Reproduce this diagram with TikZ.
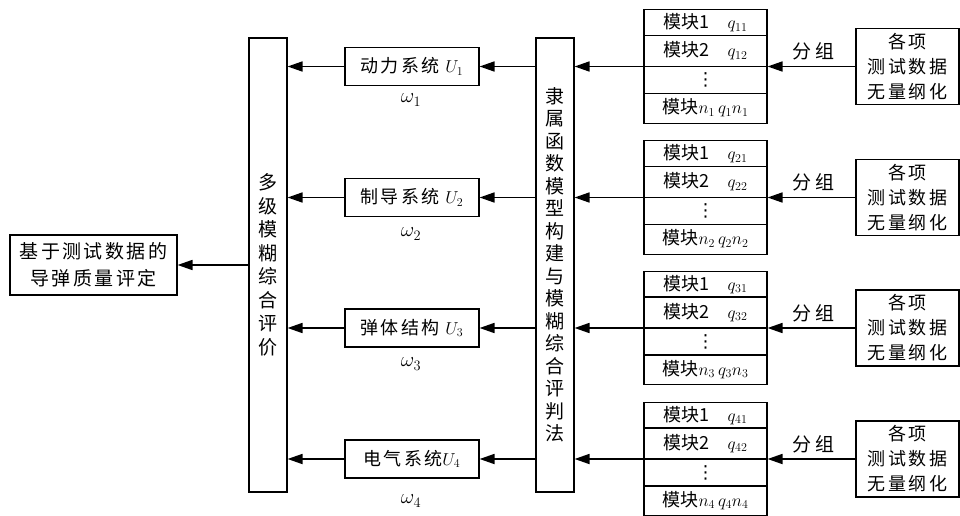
\documentclass[tikz,border=0pt]{standalone}
\usepackage{fontspec}
\setmainfont{Liberation Serif}
\newfontfamily\cjk{Noto Sans CJK SC}
\newfontfamily\cjkA[LetterSpace=13]{Noto Sans CJK SC}
\newfontfamily\cjkB[LetterSpace=12]{Noto Sans CJK SC}
\newfontfamily\cjkC[LetterSpace=16]{Noto Sans CJK SC}
\newfontfamily\symfont{DejaVu Sans}
\usetikzlibrary{arrows.meta,calc}
\begin{document}
\begin{tikzpicture}[x=1pt,y=-1pt,
  box/.style={draw,line width=1.1pt,inner sep=0pt,align=center},
  tall/.style={box,minimum width=38pt,minimum height=454pt},
  sysbox/.style={box,minimum width=134pt,minimum height=38pt,font=\fontsize{18}{20}\selectfont\cjkB},
  tbl/.style={box,anchor=north,minimum width=123pt,minimum height=113.5pt},
  tline/.style={line width=1.1pt},
  rowtxt/.style={inner sep=0pt,font=\fontsize{18}{18}\selectfont\cjk},
  databox/.style={box,minimum width=103pt,minimum height=76pt,font=\fontsize{18}{25}\selectfont\cjkC},
  lbl/.style={inner sep=0pt,font=\fontsize{19}{20}\selectfont\cjkC},
  wlbl/.style={inner sep=0pt,font=\fontsize{21}{22}\selectfont},
  arr/.style={line width=1.7pt,-{Triangle[length=15pt,width=10pt]}}
]
\useasboundingbox (0,0) rectangle (960,516);

\node[box,minimum width=167pt,minimum height=60pt,font=\fontsize{19}{27}\selectfont\cjkA] (eval) at (93.5,265) {基于测试数据的\\导弹质量评定};

\node[tall,font=\fontsize{19}{23.5}\selectfont\cjk] (multi) at (268,265)
  {多\\级\\模\\糊\\综\\合\\评\\价};
\node[tall,font=\fontsize{19}{22.5}\selectfont\cjk] (memb) at (555,265)
  {隶\\属\\函\\数\\模\\型\\构\\建\\与\\模\\糊\\综\\合\\评\\判\\法};

% subsystem boxes
\node[sysbox] (s1) at (412,66.5) {动力系统 $U_1$};
\node[sysbox] (s2) at (412,197.5) {制导系统 $U_2$};
\node[sysbox] (s3) at (412,328) {弹体结构 $U_3$};
\node[sysbox] (s4) at (412,459) {电气系统$U_4$};

\node[wlbl] (w1) at (411,100) {$\omega_1$};
\node[wlbl] (w2) at (411,234) {$\omega_2$};
\node[wlbl] (w3) at (411,364) {$\omega_3$};
\node[wlbl] (w4) at (411,501) {$\omega_4$};

% module tables
\foreach \i/\T in {1/9,2/140,3/270.5,4/401.5}{
  \node[tbl] (t\i) at (705.5,\T) {};
  \foreach \dy in {26.5,57.5,84.5}{
    \draw[tline] ($(t\i.north west)+(0,\dy)$) -- ($(t\i.north east)+(0,\dy)$);
  }
  \coordinate (t\i in) at ($(t\i.north east)+(0,57.5)$);
  \coordinate (t\i out) at ($(t\i.north west)+(0,57.5)$);
  \node[rowtxt] (t\i a) at ($(t\i.north)+(0,13.8)$) {模块1\quad$q_{\i1}$};
  \node[rowtxt] (t\i b) at ($(t\i.north)+(0,42)$) {模块2\quad$q_{\i2}$};
  \node[rowtxt,font=\fontsize{18}{18}\selectfont\symfont] (t\i c) at ($(t\i.north)+(0,71)$) {⋮};
  \node[rowtxt] (t\i d) at ($(t\i.north)+(0,99)$) {模块$n_\i$\,$q_\i n_\i$};
}

% data boxes
\node[databox] (d1) at (907.5,66.5) {各项\\测试数据\\无量纲化};
\node[databox] (d2) at (907.5,197.5) {各项\\测试数据\\无量纲化};
\node[databox] (d3) at (907.5,328) {各项\\测试数据\\无量纲化};
\node[databox] (d4) at (907.5,459) {各项\\测试数据\\无量纲化};

\foreach \i in {1,2,3,4}{
  \node[lbl] (g\i) at ($(t\i in)!0.5!(d\i.west)+(2,-15)$) {分组};
}

\foreach \i in {1,2,3,4}{
  \draw[arr] (d\i.west) -- (t\i in);
  \draw[arr] (t\i out) -- (memb.east |- t\i out);
  \draw[arr] (memb.west |- s\i.east) -- (s\i.east);
  \draw[arr] (s\i.west) -- (multi.east |- s\i.west);
}
\draw[arr] (multi.west |- eval.east) -- (eval.east);
\end{tikzpicture}
\end{document}
